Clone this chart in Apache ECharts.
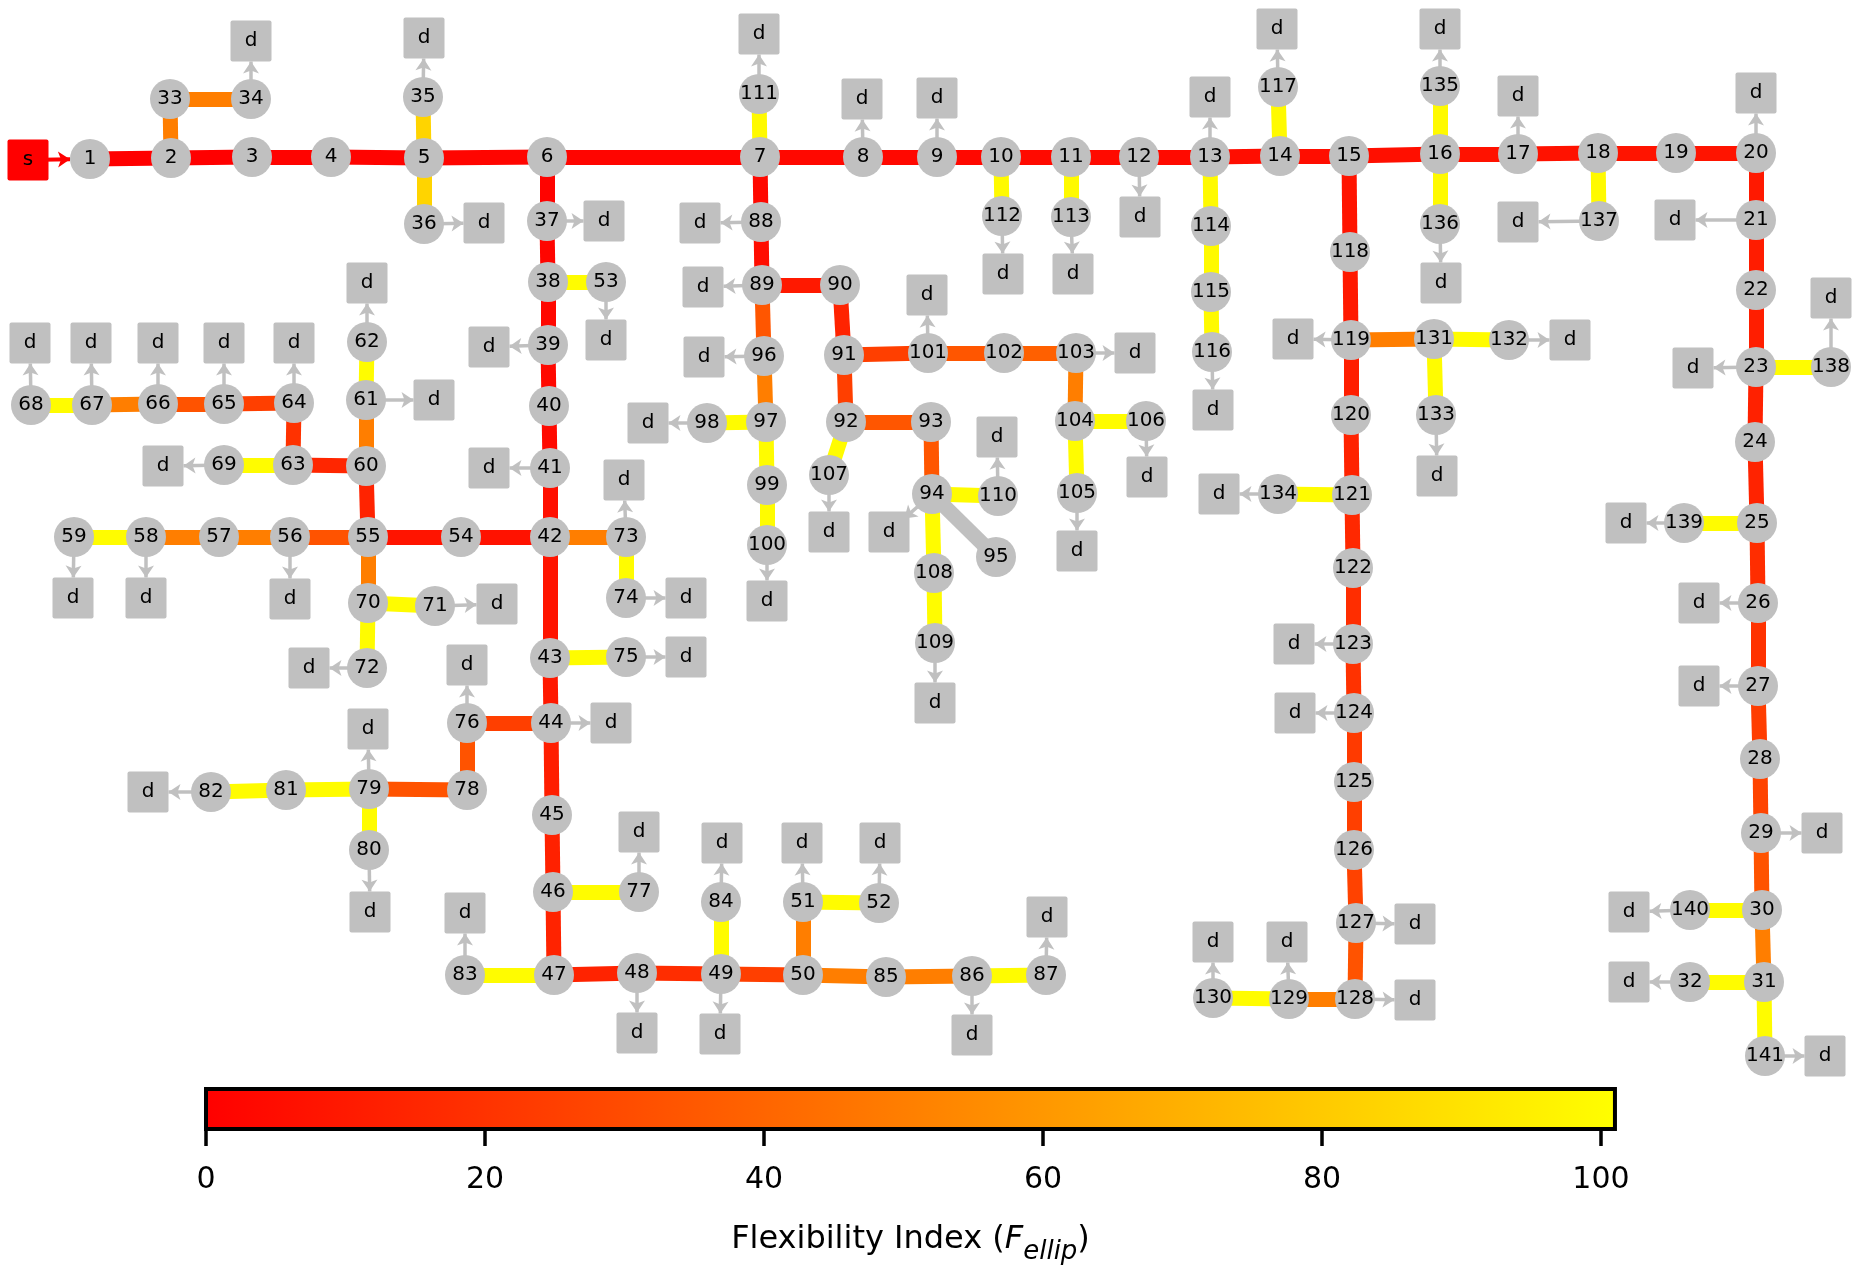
<!DOCTYPE html>
<html>
<head>
<meta charset="utf-8">
<script src="https://cdn.jsdelivr.net/npm/echarts@6/dist/echarts.min.js"></script>
<style>
  html, body { margin: 0; padding: 0; background: #fff; }
  #chart { width: 1862px; height: 1270px; }
</style>
</head>
<body>
<div id="chart"></div>
<script>
//网络节点布局（画布坐标单位）
var busIds = [1, 2, 3, 4, 5, 6, 7, 8, 9, 10, 11, 12, 13, 14, 15, 16, 17, 18, 19, 20,
    21, 22, 23, 24, 25, 26, 27, 28, 29, 30, 31, 32, 33, 34, 35, 36, 37, 38, 39, 40,
    41, 42, 43, 44, 45, 46, 47, 48, 49, 50, 51, 52, 53, 54, 55, 56, 57, 58, 59, 60,
    61, 62, 63, 64, 65, 66, 67, 68, 69, 70, 71, 72, 73, 74, 75, 76, 77, 78, 79, 80,
    81, 82, 83, 84, 85, 86, 87, 88, 89, 90, 91, 92, 93, 94, 95, 96, 97, 98, 99, 100,
    101, 102, 103, 104, 105, 106, 107, 108, 109, 110, 111, 112, 113, 114, 115, 116, 117, 118, 119, 120,
    121, 122, 123, 124, 125, 126, 127, 128, 129, 130, 131, 132, 133, 134, 135, 136, 137, 138, 139, 140, 141];
var busX = [90, 171, 252, 331, 424, 547, 760, 863, 937, 1001, 1071, 1139, 1210, 1280, 1349, 1440, 1518, 1598, 1676, 1756,
    1756, 1756, 1756, 1755, 1757, 1758, 1758, 1760, 1761, 1762, 1764, 1690, 170, 251, 423, 424, 547, 548, 548, 549,
    550, 550, 550, 551, 552, 553, 554, 637, 721, 803, 803, 879, 606, 461, 368, 290, 219, 146, 74, 366,
    366, 367, 293, 294, 224, 158, 92, 31, 224, 368, 435, 367, 626, 626, 626, 467, 639, 467, 369, 369,
    286, 211, 465, 721, 886, 972, 1046, 761, 762, 840, 844, 846, 931, 932, 996, 764, 766, 707, 767, 767,
    928, 1004, 1076, 1075, 1077, 1146, 829, 934, 935, 998, 759, 1002, 1071, 1211, 1211, 1212, 1278, 1350, 1351, 1351,
    1352, 1353, 1353, 1354, 1354, 1354, 1356, 1355, 1289, 1213, 1434, 1509, 1436, 1278, 1440, 1440, 1599, 1831, 1684, 1690, 1765];
var busY = [159, 158, 157, 157, 158, 157, 157, 157, 157, 157, 157, 157, 157, 156, 156, 154, 154, 153, 153, 153,
    220, 290, 367, 442, 523, 603, 686, 759, 833, 910, 982, 982, 99, 99, 97, 224, 221, 282, 345, 406,
    468, 537, 658, 723, 815, 892, 975, 973, 974, 975, 902, 903, 282, 537, 537, 537, 537, 537, 537, 466,
    400, 342, 465, 403, 404, 404, 405, 405, 465, 603, 606, 668, 537, 598, 657, 723, 892, 790, 789, 850,
    790, 792, 975, 902, 977, 976, 975, 222, 285, 285, 355, 422, 422, 494, 557, 356, 422, 423, 485, 545,
    353, 353, 353, 421, 493, 421, 475, 573, 643, 496, 94, 216, 217, 226, 292, 352, 87, 252, 340, 415,
    495, 568, 644, 713, 782, 850, 923, 999, 999, 998, 339, 340, 415, 494, 86, 224, 221, 367, 523, 910, 1056];

//电源节点
var sourcePos = [28, 160];

//负荷节点 d：所属母线及位置
var loadBus = [34, 35, 36, 37, 53, 39, 41, 62, 61, 64, 65, 66, 67, 68, 69, 59, 58, 56, 71, 72,
    76, 44, 79, 82, 80, 83, 77, 48, 49, 84, 51, 52, 86, 87, 73, 74, 75, 111, 8, 9,
    12, 13, 112, 113, 116, 88, 89, 96, 98, 100, 101, 103, 107, 94, 110, 109, 105, 106, 117, 135,
    136, 17, 137, 20, 21, 23, 138, 119, 132, 133, 134, 123, 124, 127, 128, 129, 130, 139, 26, 27,
    29, 140, 32, 141];
var loadX = [251, 424, 484, 604, 606, 489, 489, 367, 434, 294, 224, 158, 91, 30, 163, 73, 146, 290, 497, 309,
    467, 611, 368, 148, 370, 465, 639, 637, 720, 722, 802, 880, 972, 1047, 624, 686, 686, 759, 862, 937,
    1140, 1210, 1003, 1073, 1213, 700, 703, 704, 648, 767, 927, 1135, 829, 889, 997, 935, 1077, 1147, 1277, 1440,
    1441, 1518, 1518, 1756, 1675, 1693, 1831, 1293, 1570, 1437, 1219, 1294, 1295, 1415, 1415, 1287, 1213, 1626, 1699, 1699,
    1822, 1629, 1629, 1825];
var loadY = [41, 38, 223, 221, 340, 347, 468, 283, 400, 343, 343, 343, 343, 343, 466, 598, 598, 599, 604, 668,
    665, 723, 729, 792, 912, 913, 832, 1033, 1034, 843, 843, 843, 1035, 917, 480, 598, 657, 34, 99, 98,
    217, 97, 274, 274, 410, 223, 287, 357, 423, 601, 295, 353, 532, 532, 437, 703, 551, 477, 29, 29,
    283, 96, 222, 93, 220, 368, 298, 339, 340, 476, 494, 644, 713, 924, 1000, 942, 942, 523, 603, 686,
    833, 912, 982, 1056];

//线路：起点、终点、柔性指数 F_ellip（null 表示无值，画灰色）
var lineFrom = [1, 2, 3, 4, 5, 6, 7, 8, 9, 10, 11, 12, 13, 14, 15, 16, 17, 18, 19, 20,
    21, 22, 23, 24, 25, 26, 27, 28, 29, 30, 31, 31, 30, 25, 23, 18, 16, 16, 14, 13,
    114, 115, 10, 11, 7, 5, 5, 2, 33,
    6, 37, 38, 39, 40, 41, 42, 43, 44, 45, 46, 38,
    42, 54, 55, 56, 57, 58, 55, 60, 61, 60, 63, 64, 65, 66, 67, 63,
    55, 70, 70, 42, 73, 43, 44, 76, 78, 79, 81, 79, 46, 47,
    47, 48, 49, 50, 85, 86, 49, 50, 51,
    7, 88, 89, 90, 91, 101, 102, 103, 104, 104,
    89, 96, 97, 97, 99, 91, 92, 93, 94, 94, 108, 92, 94,
    15, 118, 119, 120, 121, 122, 123, 124, 125, 126, 127, 119, 131, 131, 121, 128, 129];
var lineTo = [2, 3, 4, 5, 6, 7, 8, 9, 10, 11, 12, 13, 14, 15, 16, 17, 18, 19, 20, 21,
    22, 23, 24, 25, 26, 27, 28, 29, 30, 31, 141, 32, 140, 139, 138, 137, 135, 136, 117, 114,
    115, 116, 112, 113, 111, 35, 36, 33, 34,
    37, 38, 39, 40, 41, 42, 43, 44, 45, 46, 47, 53,
    54, 55, 56, 57, 58, 59, 60, 61, 62, 63, 64, 65, 66, 67, 68, 69,
    70, 71, 72, 73, 74, 75, 76, 78, 79, 81, 82, 80, 77, 83,
    48, 49, 50, 85, 86, 87, 84, 51, 52,
    88, 89, 90, 91, 101, 102, 103, 104, 106, 105,
    96, 97, 98, 99, 100, 92, 93, 94, 110, 108, 109, 107, 95,
    118, 119, 120, 121, 122, 123, 124, 125, 126, 127, 128, 131, 132, 133, 134, 129, 130];
var lineFlex = [0, 0, 1, 1, 2, 2, 3, 3, 3, 4, 4, 4, 5, 5, 6, 7, 7, 8, 8, 10,
    11, 12, 13, 14, 18, 20, 24, 27, 33, 50, 100, 100, 100, 100, 100, 99, 99, 99, 99, 99,
    99, 99, 99, 99, 99, 84, 84, 50, 50,
    1, 2, 3, 3, 4, 6, 8, 10, 12, 13, 14, 100,
    7, 8, 33, 50, 50, 100, 14, 50, 100, 15, 20, 25, 33, 50, 100, 100,
    50, 100, 100, 50, 100, 100, 25, 33, 33, 100, 100, 100, 100, 100,
    14, 18, 25, 50, 50, 100, 100, 50, 100,
    3, 5, 10, 14, 25, 34, 38, 50, 100, 100,
    34, 50, 100, 100, 100, 25, 34, 34, 100, 100, 100, 100, null,
    8, 10, 12, 14, 16, 18, 20, 23, 25, 26, 33, 50, 100, 100, 100, 50, 100];

//色标
var cbMin = 0;
var cbMax = 101;
var cbTicks = [0, 20, 40, 60, 80, 100];

//autumn 色图：红 -> 黄
function autumn(v) {
    if (v === null) {
        return '#c0c0c0';
    }
    var g = Math.round(255 * Math.max(0, Math.min(1, (v - cbMin) / (cbMax - cbMin))));
    return 'rgb(255,' + g + ',0)';
}

var boxPath = 'path://M2,0 H39 Q41,0 41,2 V39 Q41,41 39,41 H2 Q0,41 0,39 V2 Q0,0 2,0 Z';

var nodes = [];
var links = [];

nodes.push({
    name: 's', tag: 's', value: sourcePos,
    symbol: boxPath, symbolSize: 41,
    itemStyle: { color: '#ff0000' }
});
busIds.forEach(function (id, i) {
    nodes.push({ name: String(id), tag: String(id), value: [busX[i], busY[i]], symbol: 'circle', symbolSize: 40 });
});
loadBus.forEach(function (b, i) {
    nodes.push({ name: 'd' + b, tag: 'd', value: [loadX[i], loadY[i]], symbol: boxPath, symbolSize: 41 });
});

lineFrom.forEach(function (f, i) {
    links.push({
        source: String(f), target: String(lineTo[i]),
        lineStyle: { color: autumn(lineFlex[i]), width: 15, opacity: 1 }
    });
});
//负荷箭头
loadBus.forEach(function (b) {
    links.push({
        source: String(b), target: 'd' + b,
        symbol: ['none', 'arrow'], symbolSize: [0, 12],
        lineStyle: { color: '#c0c0c0', width: 3.5, opacity: 1 }
    });
});
//电源箭头
links.push({
    source: 's', target: '1',
    symbol: ['none', 'arrow'], symbolSize: [0, 12],
    lineStyle: { color: '#ff0000', width: 4, opacity: 1 }
});

var chart = echarts.init(document.getElementById('chart'));
chart.setOption({
    animation: false,
    backgroundColor: '#ffffff',
    textStyle: { fontFamily: 'DejaVu Sans' },
    grid: [
        { left: 0, top: 0, width: 1862, height: 1270 },
        { left: 206, top: 1089, width: 1395, height: 40 }
    ],
    xAxis: [
        { type: 'value', gridIndex: 0, min: 0, max: 1862, show: false },
        {
            type: 'value', gridIndex: 1, min: cbMin, max: 100, interval: 20,
            axisLine: { show: false },
            splitLine: { show: false },
            axisTick: { show: true, length: 17, lineStyle: { color: '#000', width: 3.5 } },
            axisLabel: {
                fontSize: 30, color: '#000', margin: 36, fontFamily: 'DejaVu Sans',
                formatter: function (v) { return cbTicks.indexOf(v) >= 0 ? String(v) : ''; }
            },
            name: 'Flexibility Index ({f|F}{s|ellip})',
            nameLocation: 'middle',
            nameGap: 86,
            nameTextStyle: {
                fontSize: 32, color: '#000', fontFamily: 'DejaVu Sans', lineHeight: 50,
                padding: [0, 0, 0, 14],
                rich: {
                    f: { fontSize: 32, fontStyle: 'italic', color: '#000', fontFamily: 'DejaVu Sans', lineHeight: 50 },
                    s: { fontSize: 26, fontStyle: 'italic', color: '#000', fontFamily: 'DejaVu Sans', lineHeight: 38, verticalAlign: 'bottom' }
                }
            }
        }
    ],
    yAxis: [
        { type: 'value', gridIndex: 0, min: 0, max: 1270, inverse: true, show: false },
        { type: 'value', gridIndex: 1, min: 0, max: 1, show: false }
    ],
    series: [
        {
            type: 'graph',
            layout: 'none',
            coordinateSystem: 'cartesian2d',
            xAxisIndex: 0,
            yAxisIndex: 0,
            silent: true,
            roam: false,
            data: nodes,
            links: links,
            itemStyle: { color: '#c0c0c0' },
            label: {
                show: true,
                position: 'inside',
                color: '#000',
                fontSize: 20,
                fontFamily: 'DejaVu Sans',
                formatter: function (p) { return p.data.tag; }
            },
            lineStyle: { curveness: 0, opacity: 1 },
            emphasis: { disabled: true }
        },
        {
            //色标条
            type: 'custom',
            xAxisIndex: 1,
            yAxisIndex: 1,
            silent: true,
            clip: false,
            data: [[cbMin, cbMax]],
            renderItem: function (params, api) {
                var p0 = api.coord([api.value(0), 1]);
                var p1 = api.coord([api.value(1), 0]);
                return {
                    type: 'rect',
                    shape: { x: p0[0], y: p0[1], width: p1[0] - p0[0], height: p1[1] - p0[1] },
                    style: {
                        fill: new echarts.graphic.LinearGradient(0, 0, 1, 0, [
                            { offset: 0, color: autumn(cbMin) },
                            { offset: 1, color: autumn(cbMax) }
                        ]),
                        stroke: '#000',
                        lineWidth: 4
                    }
                };
            }
        }
    ]
});
</script>
</body>
</html>
